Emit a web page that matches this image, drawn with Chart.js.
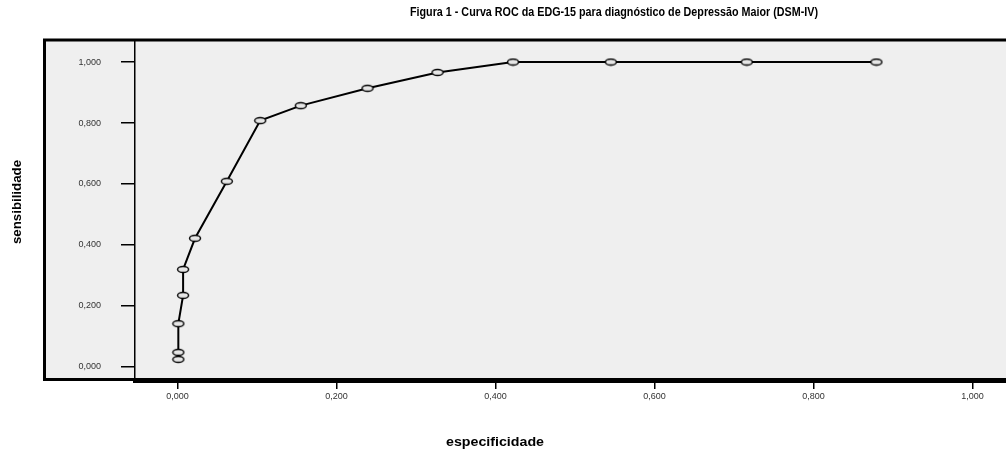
<!DOCTYPE html>
<html>
<head>
<meta charset="utf-8">
<script src="https://cdn.jsdelivr.net/npm/chart.js@4"></script>
<style>
  html, body { margin: 0; padding: 0; background: #fff; overflow: hidden; }
  canvas { display: block; }
</style>
</head>
<body>
<canvas id="rocChart" width="1016" height="453"></canvas>
<script>
// ROC curve values
const especificidade = [0.001, 0.001, 0.001, 0.007, 0.007, 0.022, 0.062, 0.104, 0.155, 0.239, 0.327, 0.422, 0.545, 0.716, 0.879];
const sensibilidade  = [0.025, 0.048, 0.142, 0.235, 0.320, 0.422, 0.609, 0.808, 0.857, 0.914, 0.966, 1.000, 1.000, 1.000, 1.000];
const xTicks = [0, 0.2, 0.4, 0.6, 0.8, 1.0];
const yTicks = [0, 0.2, 0.4, 0.6, 0.8, 1.0];

const titleText = 'Figura 1 - Curva ROC da EDG-15 para diagnóstico de Depressão Maior (DSM-IV)';
const xTitle = 'especificidade';
const yTitle = 'sensibilidade';

const sans = "'Liberation Sans', Arial, sans-serif";

// small open ellipse used as the point marker
const marker = document.createElement('canvas');
marker.width = 14;
marker.height = 9;
const mctx = marker.getContext('2d');
mctx.beginPath();
mctx.ellipse(7, 4.5, 5.5, 3, 0, 0, Math.PI * 2);
mctx.fillStyle = '#e6e6e6';
mctx.fill();
mctx.lineWidth = 1.4;
mctx.strokeStyle = '#000';
mctx.stroke();

const fmt = v => v.toFixed(3).replace('.', ',');

// condensed bold text: squeeze to the width seen in the figure
function narrowText(c, text, x, y, size, width) {
  c.save();
  c.font = 'bold ' + size + 'px ' + sans;
  const w = c.measureText(text).width;
  c.translate(x, y);
  c.scale(width / w, 1);
  c.fillText(text, 0, 0);
  c.restore();
}

const frame = {
  id: 'frame',
  beforeDraw(chart) {
    const c = chart.ctx;
    c.save();
    c.fillStyle = '#efefef';
    c.fillRect(44, 40, 1000, 340);
    c.strokeStyle = '#000';
    c.lineWidth = 3;
    c.strokeRect(44.5, 40, 1000, 339.5);
    c.restore();
  },
  afterDraw(chart) {
    const c = chart.ctx;
    c.save();
    c.fillStyle = '#000';
    c.textAlign = 'center';
    c.textBaseline = 'middle';
    narrowText(c, titleText, 614, 13, 12, 408);
    narrowText(c, xTitle, 495, 443, 12, 98);
    c.translate(18, 202);
    c.rotate(-Math.PI / 2);
    narrowText(c, yTitle, 0, 0, 12, 84);
    c.restore();
  }
};

new Chart(document.getElementById('rocChart'), {
  type: 'scatter',
  data: {
    datasets: [{
      data: especificidade.map((x, i) => ({ x: x, y: sensibilidade[i] })),
      showLine: true,
      borderColor: '#000',
      borderWidth: 2,
      pointStyle: marker,
      pointRadius: 5,
      tension: 0
    }]
  },
  options: {
    responsive: false,
    animation: false,
    layout: { padding: { top: 41, right: 0, left: 0, bottom: 0 } },
    plugins: {
      legend: { display: false },
      tooltip: { enabled: false }
    },
    scales: {
      x: {
        type: 'linear',
        min: -0.0535,
        max: 1.042,
        afterFit: s => { s.height = 72; s.paddingRight = 10; },
        afterBuildTicks: s => { s.ticks = xTicks.map(v => ({ value: v })); },
        border: { display: true, color: '#000', width: 4 },
        grid: { drawOnChartArea: false, tickLength: 8, color: '#000', lineWidth: 1.5 },
        ticks: {
          padding: 2,
          color: '#333',
          font: { size: 9, family: sans },
          callback: v => fmt(v)
        }
      },
      y: {
        type: 'linear',
        min: -0.046,
        max: 1.069,
        afterFit: s => { s.width = 135; },
        afterBuildTicks: s => { s.ticks = yTicks.map(v => ({ value: v })); },
        border: { display: true, color: '#000', width: 1.5 },
        grid: { drawOnChartArea: false, tickLength: 14, color: '#000', lineWidth: 1.5 },
        ticks: {
          padding: 20,
          color: '#333',
          font: { size: 9, family: sans },
          callback: v => fmt(v)
        }
      }
    }
  },
  plugins: [frame]
});
</script>
</body>
</html>
